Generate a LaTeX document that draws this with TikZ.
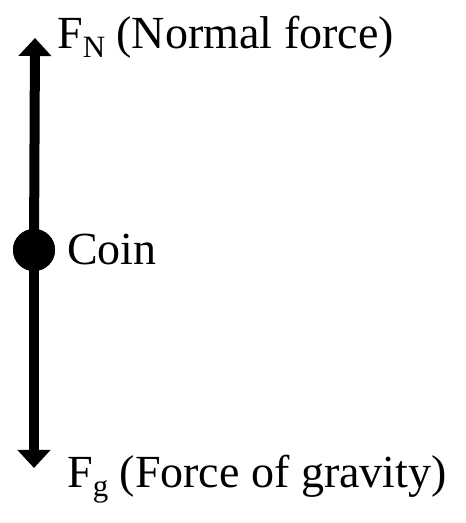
\documentclass[tikz,border=0pt]{standalone}
\usepackage{fontspec}
\setmainfont{Liberation Serif}
\usetikzlibrary{arrows.meta}
\newcommand{\forcesub}[1]{\raisebox{-9pt}{\fontsize{31}{33}\selectfont #1}}
\begin{document}
\begin{tikzpicture}[
    x=1pt, y=1pt,
    force/.style={line width=10pt, -{Triangle[width=32pt, length=18pt]}},
    coin/.style={circle, fill=black, inner sep=0pt, minimum size=42pt},
    label/.style={anchor=base west, inner sep=0pt, font=\fontsize{46}{50}\selectfont}
]
\useasboundingbox (0,0) rectangle (466,523);

% --- Coin and arrow ends ---
\node[coin] (coin) at (34, 273) {};
\coordinate (top) at (35, 485);
\coordinate (bot) at (34, 55);

% --- Forces ---
\draw[force] (coin.center) -- (top);
\draw[force] (coin.center) -- (bot);
\node[coin] at (coin.center) {};

% --- Labels ---
\node[label] (fn) at (57, 474) {F\forcesub{N} (Normal force)};
\node[label] (name) at (67, 258) {Coin};
\node[label] (fg) at (67, 35) {F\forcesub{g} (Force of gravity)};

\end{tikzpicture}
\end{document}
